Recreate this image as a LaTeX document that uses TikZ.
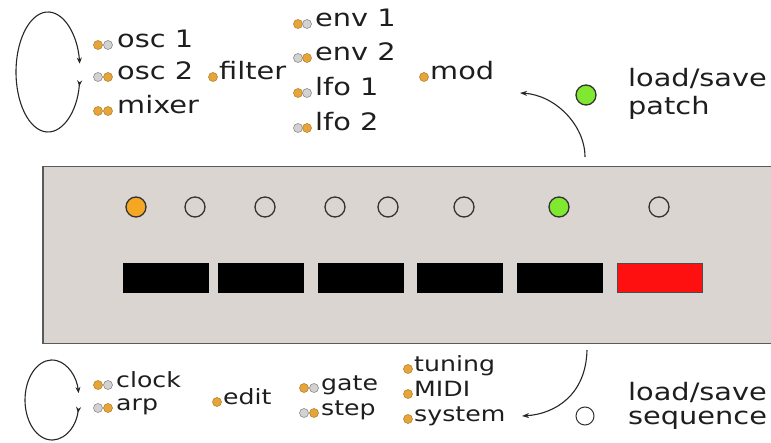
\documentclass[tikz,border=0pt]{standalone}
\usepackage{fontspec}
\setmainfont{DejaVu Sans}[FakeStretch=1.2]
\usetikzlibrary{arrows.meta,calc}
\definecolor{panelfill}{HTML}{DAD5D0}
\definecolor{panelline}{HTML}{5A5A5A}
\definecolor{ledorange}{HTML}{F5A623}
\definecolor{ledgreen}{HTML}{80E830}
\definecolor{dotor}{HTML}{E6A53A}
\definecolor{dotorline}{HTML}{B88630}
\definecolor{dotgr}{HTML}{D2D2D2}
\definecolor{dotgrline}{HTML}{8C8C8C}
\definecolor{btnred}{HTML}{FF1010}
\definecolor{txt}{HTML}{1E1E1E}
\tikzset{
  lbl/.style={inner sep=0pt, anchor=mid west, text=txt, font=\fontsize{24}{28}\selectfont},
  slbl/.style={lbl, font=\fontsize{21}{25}\selectfont},
  odot/.style={circle, inner sep=0pt, minimum size=9pt, fill=dotor, draw=dotorline, line width=0.6pt},
  gdot/.style={circle, inner sep=0pt, minimum size=9pt, fill=dotgr, draw=dotgrline, line width=0.6pt},
  led/.style={circle, inner sep=0pt, minimum size=20pt, draw=black!80, line width=1.3pt},
  btn/.style={rectangle, anchor=north west, inner sep=0pt, minimum width=85pt, minimum height=29pt, fill=black, draw=black},
  conn/.style={line width=1.1pt, draw=black!85},
  tipend/.style={-{Stealth[length=7pt,width=5pt]}},
  tipboth/.style={{Stealth[length=6pt,width=5pt,reversed]}-{Stealth[length=6pt,width=5pt]}}
}
\begin{document}
\begin{tikzpicture}[x=1pt,y=-1pt]
\useasboundingbox (0,0) rectangle (771,443);
% panel
\node[draw=panelline, fill=panelfill, line width=1.5pt, anchor=north west, inner sep=0pt,
      minimum width=760pt, minimum height=177pt] (panel) at (42,166) {};
% LEDs
\node[led, fill=ledorange] (l1) at (136,207) {};
\node[led] (l2) at (195,207) {};
\node[led] (l3) at (265,207) {};
\node[led] (l4) at (335,207) {};
\node[led] (l5) at (388,207) {};
\node[led] (l6) at (464,207) {};
\node[led, fill=ledgreen] (l7) at (559,207) {};
\node[led] (l8) at (659,207) {};
% buttons
\node[btn] (b1) at (123,263) {};
\node[btn] (b2) at (218,263) {};
\node[btn] (b3) at (318,263) {};
\node[btn] (b4) at (417,263) {};
\node[btn] (b5) at (517,263) {};
\node[btn, fill=btnred, draw=black!70] (b6) at (617,263) {};
% top loop
\coordinate (tlc) at (48,72);
\draw[conn, tipboth] ($(tlc)+(31.7,8.35)$) arc[start angle=-8, end angle=-352, x radius=32pt, y radius=60pt];
% top labels
\node[odot] (d1a) at (98,45) {}; \node[gdot] (d1b) at (108,45) {};
\node[lbl] (osc1) at (117,45) {osc 1};
\node[gdot] (d2a) at (98,77) {}; \node[odot] (d2b) at (108,77) {};
\node[lbl] (osc2) at (117,77) {osc 2};
\node[odot] (d3a) at (98,111) {}; \node[odot] (d3b) at (108,111) {};
\node[lbl] (mixer) at (117,111) {mixer};
\node[odot] (d4) at (213,77) {};
\node[lbl] (filter) at (219,77) {filter};
\node[odot] (e1a) at (298,24) {}; \node[gdot] (e1b) at (307,24) {};
\node[lbl] (env1) at (315,24) {env 1};
\node[gdot] (e2a) at (298,58) {}; \node[odot] (e2b) at (307,58) {};
\node[lbl] (env2) at (315,58) {env 2};
\node[odot] (e3a) at (298,93) {}; \node[gdot] (e3b) at (307,93) {};
\node[lbl] (lfo1) at (315,93) {lfo 1};
\node[gdot] (e4a) at (298,128) {}; \node[odot] (e4b) at (307,128) {};
\node[lbl] (lfo2) at (315,128) {lfo 2};
\node[odot] (d5) at (424,77) {};
\node[lbl] (mod) at (430,77) {mod};
% top right
\node[led, fill=ledgreen] (pled) at (586,95) {};
\coordinate (pa) at (585,157);
\coordinate (pb) at (520,93);
\draw[conn, tipend] (pa) .. controls (585,125) and (555,95) .. (pb);
\node[lbl] (ls1) at (628,84) {load/save};
\node[lbl] (patch) at (628,112) {patch};
% bottom loop
\coordinate (blc) at (52,400);
\draw[conn, tipboth] ($(blc)+(26.6,6.95)$) arc[start angle=-10, end angle=-350, x radius=27pt, y radius=40pt];
% bottom labels
\node[odot] (c1a) at (98,385) {}; \node[gdot] (c1b) at (108,385) {};
\node[slbl] (clock) at (116,385) {clock};
\node[gdot] (c2a) at (98,408) {}; \node[odot] (c2b) at (108,408) {};
\node[slbl] (arp) at (116,408) {arp};
\node[odot] (c3) at (217,402) {};
\node[slbl] (edit) at (223,402) {edit};
\node[odot] (g1a) at (304,388) {}; \node[gdot] (g1b) at (314,388) {};
\node[slbl] (gate) at (321,388) {gate};
\node[gdot] (g2a) at (304,413) {}; \node[odot] (g2b) at (314,413) {};
\node[slbl] (step) at (321,413) {step};
\node[odot] (t1) at (408,369) {};
\node[slbl] (tuning) at (414,369) {tuning};
\node[odot] (t2) at (408,394) {};
\node[slbl] (midi) at (414,394) {MIDI};
\node[odot] (t3) at (408,419) {};
\node[slbl] (system) at (414,419) {system};
% bottom right
\node[circle, inner sep=0pt, minimum size=18pt, draw=black!80, line width=1pt] (sled) at (585,416) {};
\coordinate (sa) at (587,350);
\coordinate (sb) at (522,416);
\draw[conn, tipend] (sa) .. controls (586,395) and (555,414) .. (sb);
\node[lbl] (ls2) at (628,398) {load/save};
\node[lbl] (seq) at (628,422) {sequence};
\end{tikzpicture}
\end{document}
